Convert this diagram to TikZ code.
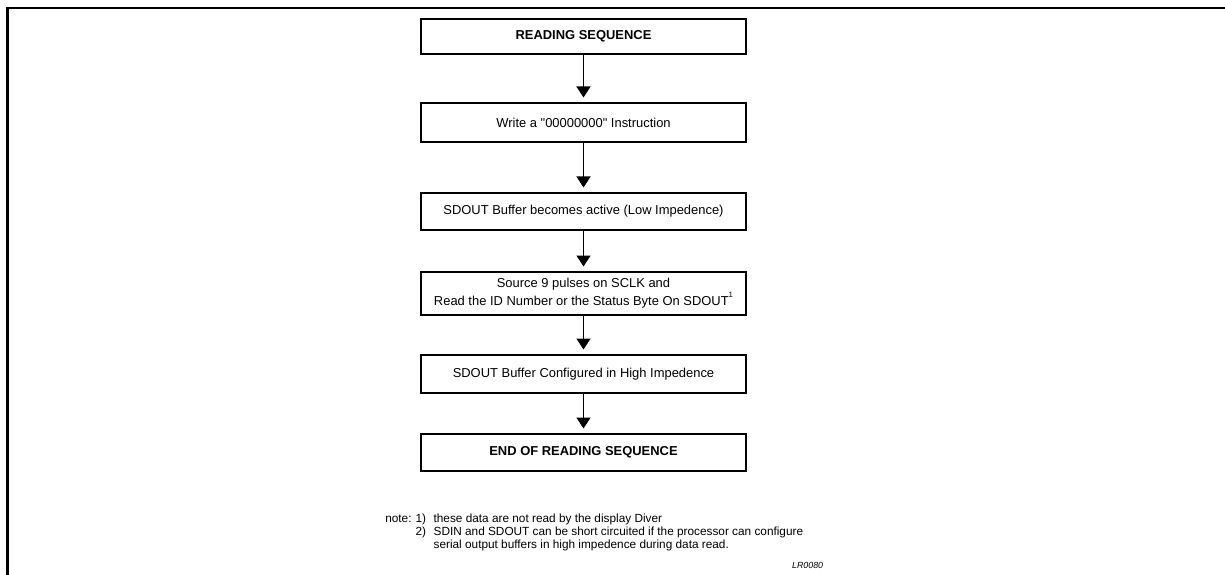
\documentclass[tikz,border=0pt]{standalone}
\usepackage{fontspec}
\setmainfont{Liberation Sans}[Ligatures=TeXOff]
\usepackage{xcolor}
\usepackage{tikz}
\usetikzlibrary{arrows.meta,positioning}
\definecolor{rsInk}{HTML}{000000}
\tikzset{
  rs diagram/.style={text=rsInk, line cap=butt, line join=miter},
  rs box/.style={draw=rsInk, fill=white, line width=1pt, align=center,
    minimum width=8.125cm, minimum height=0.925cm, inner sep=2pt,
    font=\fontsize{9.2}{10.9}\selectfont},
  rs title box/.style={rs box, font=\fontsize{9.2}{10.9}\selectfont\bfseries},
  rs arrow/.style={-{Triangle[length=0.275cm,width=0.35cm]}, draw=rsInk,
    line width=1.1pt, shorten >=0.12cm},
  rs frame/.style={draw=rsInk, line width=0.075cm},
  rs note/.style={font=\fontsize{8.4}{9.3}\selectfont, inner sep=0pt},
  rs ref/.style={font=\fontsize{6.3}{7}\selectfont\itshape, inner sep=0pt}
}

\begin{document}
\begin{tikzpicture}[rs diagram]
\useasboundingbox (0,0) rectangle (30.625,-14.375);
\draw[rs frame] (0.1875,-14.375) -- (0.1875,-0.2) -- (30.625,-0.2);
% flow of the reading sequence
\node[rs title box, minimum height=0.875cm] (start) at (14.5875,-0.9125) {READING SEQUENCE};
\node[rs box, minimum height=0.975cm] (write) at (14.5875,-3.0625) {Write a "00000000" Instruction};
\node[rs box] (active) at (14.5875,-5.2875) {SDOUT Buffer becomes active (Low Impedence)};
\node[rs box, minimum height=1.075cm] (pulses) at (14.5875,-7.3375)
  {Source 9 pulses on SCLK and\\Read the ID Number or the Status Byte On SDOUT\raisebox{1.3ex}{\fontsize{5.5}{6}\selectfont 1}};
\node[rs box, minimum height=0.95cm] (highz) at (14.5875,-9.35) {SDOUT Buffer Configured in High Impedence};
\node[rs title box] (stop) at (14.5875,-11.3125) {END OF READING SEQUENCE};
\draw[rs arrow] (start) -- (write);
\draw[rs arrow] (write) -- (active);
\draw[rs arrow] (active) -- (pulses);
\draw[rs arrow] (pulses) -- (highz);
\draw[rs arrow] (highz) -- (stop);
% notes
\node[rs note, anchor=north west] (notes) at (9.625,-12.82) {%
  \begin{tabular}{@{}l@{\hspace{0.1cm}}l@{\hspace{0.19cm}}l@{}}
  note: & 1) & these data are not read by the display Diver\\
        & 2) & SDIN and SDOUT can be short circuited if the processor can configure\\
        &    & serial output buffers in high impedence during data read.
  \end{tabular}};
\node[rs ref] (refcode) at (20.19,-14.125) {LR0080};
\end{tikzpicture}
\end{document}
